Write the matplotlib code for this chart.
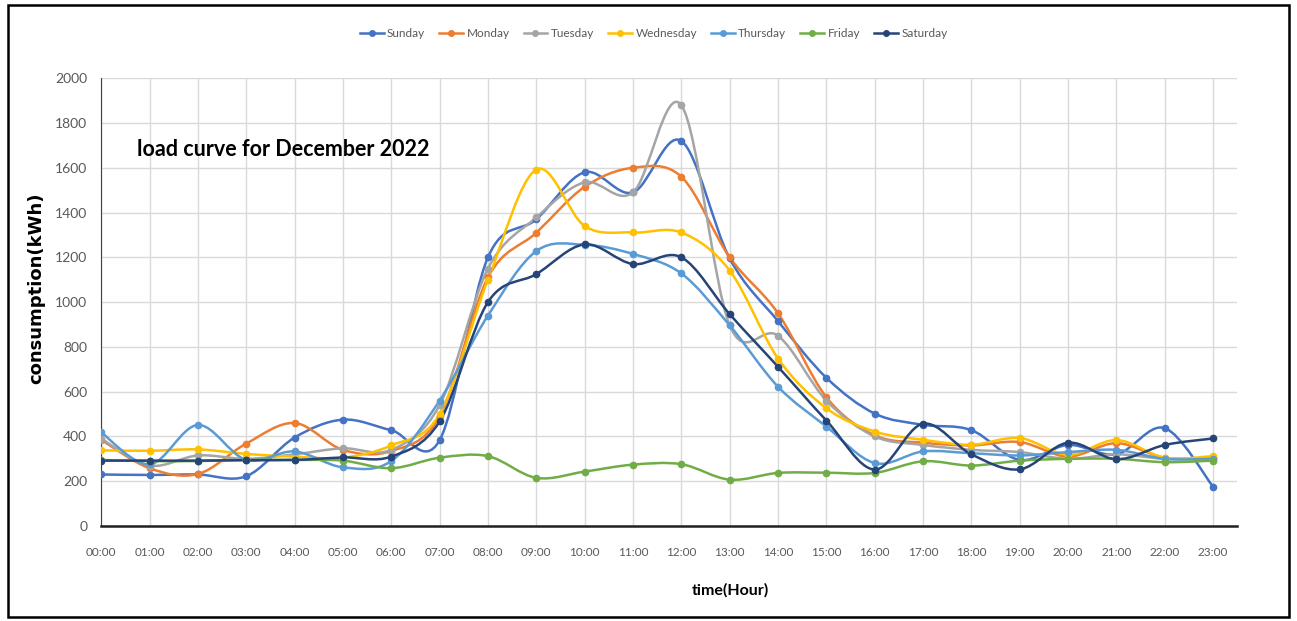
"""Hourly load curves per weekday, December 2022."""

import numpy as np
import matplotlib
matplotlib.use("Agg")
import matplotlib.pyplot as plt
from matplotlib.path import Path
from matplotlib.patches import PathPatch, Rectangle
from matplotlib.lines import Line2D

hours = [f"{h:02d}:00" for h in range(24)]

sunday = [230, 228, 230, 222, 395, 475, 428, 383, 1200, 1370, 1580, 1490, 1720, 1195,
          915, 662, 502, 452, 428, 295, 362, 320, 437, 175]
monday = [385, 258, 232, 368, 460, 340, 335, 490, 1110, 1310, 1515, 1600, 1560, 1200,
          950, 575, 405, 372, 360, 375, 310, 370, 305, 305]
tuesday = [390, 270, 315, 300, 320, 347, 340, 540, 1150, 1378, 1535, 1490, 1880, 896,
           850, 560, 400, 362, 340, 330, 300, 320, 300, 300]
wednesday = [338, 336, 342, 322, 310, 305, 360, 500, 1100, 1592, 1340, 1311, 1311, 1141,
             748, 526, 422, 385, 363, 393, 318, 384, 305, 312]
thursday = [418, 275, 451, 295, 333, 262, 290, 560, 940, 1228, 1256, 1215, 1128, 896,
            622, 444, 281, 333, 325, 315, 330, 340, 300, 300]
friday = [295, 290, 290, 295, 295, 292, 258, 305, 312, 215, 243, 274, 276, 207,
          237, 238, 237, 289, 270, 292, 300, 300, 285, 292]
saturday = [292, 292, 292, 294, 295, 306, 310, 467, 1000, 1125, 1258, 1170, 1200, 946,
            711, 471, 252, 457, 320, 253, 372, 298, 362, 391]

days = ["Sunday", "Monday", "Tuesday", "Wednesday", "Thursday", "Friday", "Saturday"]
series = [sunday, monday, tuesday, wednesday, thursday, friday, saturday]
colors = ["#4472C4", "#ED7D31", "#A5A5A5", "#FFC000", "#5B9BD5", "#70AD47", "#264478"]

narrow = ["Lato", "DejaVu Sans"]


def smooth_path(x, y):
    # cubic bezier through every point, like a spreadsheet "smoothed line"
    pts = np.column_stack([x, y]).astype(float)
    n = len(pts)
    verts = [pts[0]]
    codes = [Path.MOVETO]
    for i in range(n - 1):
        p0 = pts[i - 1] if i > 0 else pts[i]
        p1 = pts[i]
        p2 = pts[i + 1]
        p3 = pts[i + 2] if i + 2 < n else pts[i + 1]
        c1 = p1 + (p2 - p0) / 6.0
        c2 = p2 - (p3 - p1) / 6.0
        verts += [c1, c2, p2]
        codes += [Path.CURVE4] * 3
    return Path(verts, codes)


fig = plt.figure(figsize=(12.97, 6.21), dpi=100)
ax = fig.add_axes([0.078, 0.153, 0.876, 0.721])

x = np.arange(len(hours))
for name, vals, c in zip(days, series, colors):
    ax.add_patch(PathPatch(smooth_path(x, vals), facecolor="none", edgecolor=c,
                           lw=1.8, zorder=3))
    ax.plot(x, vals, linestyle="none", marker="o", ms=4.5, color=c, zorder=4)

ax.set_xlim(0, 23.5)
ax.set_ylim(0, 2000)
ax.set_yticks(range(0, 2001, 200))
ax.set_xticks(x)
ax.set_xticklabels(hours)
ax.grid(True, color="#D9D9D9", lw=1)
ax.set_axisbelow(True)
for s in ["top", "right"]:
    ax.spines[s].set_visible(False)
ax.spines["left"].set_color("#404040")
ax.spines["bottom"].set_color("#202020")
ax.spines["bottom"].set_linewidth(1.8)
ax.tick_params(axis="x", length=0, colors="#595959", labelsize=8.5, pad=15)
ax.tick_params(axis="y", length=0, colors="#595959", labelsize=10, pad=10)
for lab in ax.get_xticklabels() + ax.get_yticklabels():
    lab.set_family(narrow)

ax.set_xlabel("time(Hour)", fontsize=11.5, fontweight="bold", family=narrow)
ax.xaxis.set_label_coords(0.554, -0.128)
ax.set_ylabel("consumption(kWh)", fontsize=13, fontweight="bold")
ax.yaxis.set_label_coords(-0.049, 0.53)

ax.text(0.75, 1680, "load curve for December 2022", fontsize=15.5, fontweight="bold",
        family=narrow, color="black", va="center")

handles = [Line2D([], [], color=c, lw=1.8, marker="o", ms=4) for c in colors]
leg = fig.legend(handles, days, loc="center", bbox_to_anchor=(0.504, 0.946), ncol=7,
                 frameon=False, handlelength=2.0, handletextpad=0.3, columnspacing=1.2,
                 prop={"family": narrow, "size": 8.5})
for t in leg.get_texts():
    t.set_color("#595959")

fig.add_artist(Rectangle((0.006, 0.006), 0.988, 0.986, transform=fig.transFigure,
                         fill=False, edgecolor="black", lw=1.8))

fig.savefig("out.png", dpi=100)
